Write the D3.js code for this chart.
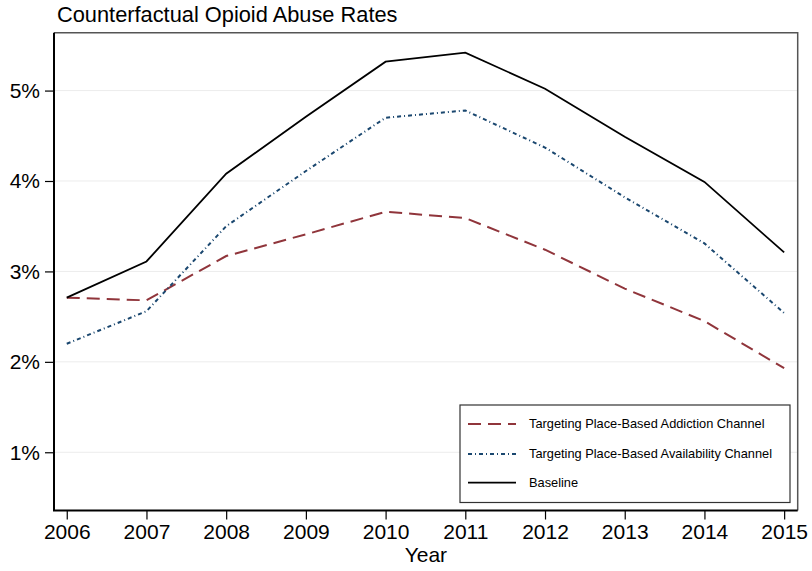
<!DOCTYPE html>
<html>
<head>
<meta charset="utf-8">
<script src="https://cdn.jsdelivr.net/npm/d3@7"></script>
<style>
    body { margin: 0; background: #fff; }
    svg { display: block; font-family: "Liberation Sans", Arial, sans-serif; }
</style>
</head>
<body>
<svg id="chart"></svg>
<script>
// Chart data (percent)
const years = [2006, 2007, 2008, 2009, 2010, 2011, 2012, 2013, 2014, 2015];
const baseline = [2.71, 3.11, 4.08, 4.71, 5.32, 5.42, 5.02, 4.49, 3.99, 3.21];
const availability = [2.20, 2.56, 3.50, 4.11, 4.70, 4.78, 4.37, 3.82, 3.31, 2.54];
const addiction = [2.71, 2.68, 3.17, 3.41, 3.66, 3.59, 3.24, 2.81, 2.45, 1.93];
const yTicks = [1, 2, 3, 4, 5];
const seriesNames = [
    'Targeting Place-Based Addiction Channel',
    'Targeting Place-Based Availability Channel',
    'Baseline'
];

const width = 812;
const height = 571;
const plot = { left: 54, right: 797.7, top: 32.7, bottom: 510.5 };

const svg = d3.select('#chart')
    .attr('width', width)
    .attr('height', height);

const x = d3.scaleLinear()
    .domain([2005.84, 2015.17])
    .range([plot.left, plot.right]);

const y = d3.scaleLinear()
    .domain([0.356, 5.64])
    .range([plot.bottom, plot.top]);

// Gridlines
svg.append('g')
    .selectAll('line')
    .data(yTicks)
    .join('line')
    .attr('x1', plot.left)
    .attr('x2', plot.right)
    .attr('y1', d => y(d))
    .attr('y2', d => y(d))
    .attr('stroke', '#ececec')
    .attr('stroke-width', 1);

// Frame (top / right)
svg.append('path')
    .attr('d', `M${plot.left},${plot.top}H${plot.right}V${plot.bottom}`)
    .attr('fill', 'none')
    .attr('stroke', '#555')
    .attr('stroke-width', 1.5);

// Series
const series = [
    { name: seriesNames[0], values: addiction, color: '#90353b', dash: '13,7', width: 2 },
    { name: seriesNames[1], values: availability, color: '#1a476f', dash: '4,3,1,3', width: 2 },
    { name: seriesNames[2], values: baseline, color: '#000', dash: null, width: 1.8 }
];

const line = d3.line()
    .x((d, i) => x(years[i]))
    .y(d => y(d));

svg.append('g')
    .selectAll('path')
    .data(series)
    .join('path')
    .attr('d', d => line(d.values))
    .attr('fill', 'none')
    .attr('stroke', d => d.color)
    .attr('stroke-width', d => d.width)
    .attr('stroke-dasharray', d => d.dash);

// Axes
const xAxis = svg.append('g')
    .attr('transform', `translate(0,${plot.bottom})`)
    .call(d3.axisBottom(x).tickValues(years).tickFormat(d3.format('d')).tickSize(9).tickPadding(5));

const yAxis = svg.append('g')
    .attr('transform', `translate(${plot.left},0)`)
    .call(d3.axisLeft(y).tickValues(yTicks).tickFormat(d => d + '%').tickSize(9).tickPadding(5));

[xAxis, yAxis].forEach(g => {
    g.select('.domain').remove();
    g.selectAll('.tick line').attr('stroke', '#000').attr('stroke-width', 1.2);
    g.selectAll('.tick text')
        .attr('fill', '#000')
        .style('font-size', '21px')
        .style('font-family', '"Liberation Sans", Arial, sans-serif');
});

// Axis lines (left / bottom)
svg.append('path')
    .attr('d', `M${plot.left},${plot.top}V${plot.bottom}H${plot.right}`)
    .attr('fill', 'none')
    .attr('stroke', '#000')
    .attr('stroke-width', 2);

// Titles
svg.append('text')
    .attr('x', 57)
    .attr('y', 22)
    .attr('font-size', '21.8px')
    .attr('fill', '#000')
    .text('Counterfactual Opioid Abuse Rates');

svg.append('text')
    .attr('x', (plot.left + plot.right) / 2)
    .attr('y', 562)
    .attr('text-anchor', 'middle')
    .attr('font-size', '21px')
    .attr('fill', '#000')
    .text('Year');

// Legend
const legend = svg.append('g').attr('transform', 'translate(460,405)');

legend.append('rect')
    .attr('width', 330)
    .attr('height', 97.5)
    .attr('fill', '#fff')
    .attr('stroke', '#333')
    .attr('stroke-width', 1.2);

const rows = legend.selectAll('g.row')
    .data(series)
    .join('g')
    .attr('class', 'row')
    .attr('transform', (d, i) => `translate(0,${[19, 49, 77.7][i]})`);

rows.append('line')
    .attr('x1', 8)
    .attr('x2', 56)
    .attr('stroke', d => d.color)
    .attr('stroke-width', d => d.width)
    .attr('stroke-dasharray', d => d.dash);

rows.append('text')
    .attr('x', 69)
    .attr('dy', '0.35em')
    .attr('font-size', '12.8px')
    .attr('fill', '#000')
    .text(d => d.name);
</script>
</body>
</html>
